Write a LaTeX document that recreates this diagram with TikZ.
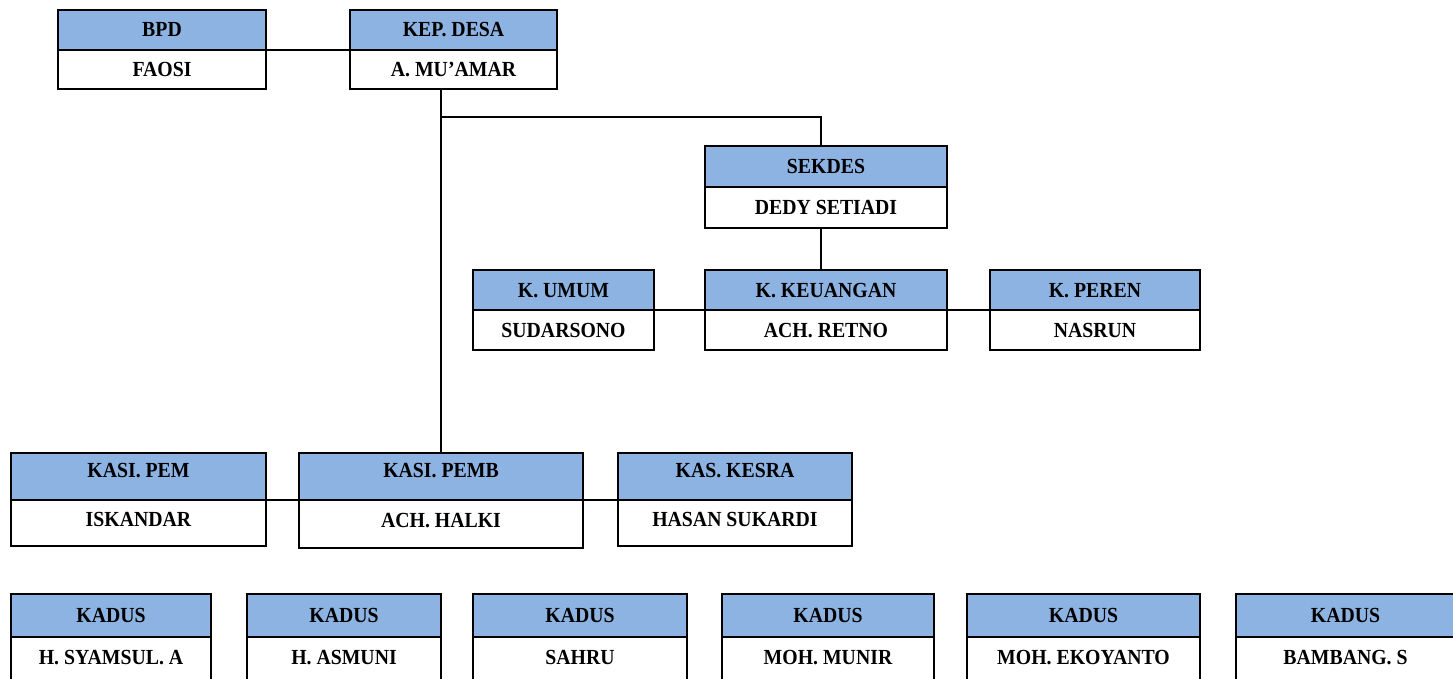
\documentclass[tikz,border=0pt]{standalone}
\usepackage{fontspec}
\setmainfont{Liberation Serif}[FakeStretch=0.92]
\definecolor{hdrblue}{RGB}{141,179,226}
\tikzset{
  boxline/.style={draw=black, line width=1.6pt, inner sep=0pt, outer sep=0pt, text height=14pt, text depth=0pt, font=\fontsize{21.5}{24}\selectfont\bfseries},
  hdr/.style={boxline, fill=hdrblue, anchor=north west},
  bodyb/.style={boxline, fill=white, anchor=north west},
  conn/.style={draw=black, line width=1.6pt},
  lift/.style={text depth=12pt},
  liftb/.style={text depth=7pt},
  open/.style={minimum height=0pt, text height=20pt, text depth=40pt, inner ysep=7pt}
}
% #1 id, #2 x, #3 y, #4 width, #5 header h, #6 body h, #7 title, #8 name, #9 extra body style
\newcommand\obox[9]{%
  \node[hdr, minimum width=#4pt, minimum height=#5pt] (#1h) at (#2,#3) {#7};
  \node[bodyb, minimum width=#4pt, minimum height=#6pt, #9] (#1) at (#1h.south west) {#8};
}
\begin{document}
\begin{tikzpicture}[x=1pt,y=-1pt]
\useasboundingbox (0,0) rectangle (1453,679);
\clip (0,0) rectangle (1453,679);
% row 1
\obox{bpd}{58}{10}{208}{40}{39}{BPD}{FAOSI}{}
\obox{kep}{350}{10}{207}{40}{39}{KEP. DESA}{A. MU'AMAR}{}
% sekdes
\obox{sek}{705}{146}{242}{41}{41}{SEKDES}{DEDY SETIADI}{}
% row 2
\obox{kum}{473}{270}{181}{40}{40}{K. UMUM}{SUDARSONO}{}
\obox{kke}{705}{270}{242}{40}{40}{K. KEUANGAN}{ACH. RETNO}{}
\obox{kpe}{990}{270}{210}{40}{40}{K. PEREN}{NASRUN}{}
% row 3
\node[hdr, lift, minimum width=255pt, minimum height=47pt] (kpemh) at (11,453) {KASI. PEM};
\node[bodyb, liftb, minimum width=255pt, minimum height=46pt] (kpem) at (kpemh.south west) {ISKANDAR};
\node[hdr, lift, minimum width=284pt, minimum height=47pt] (kpmbh) at (299,453) {KASI. PEMB};
\node[bodyb, liftb, minimum width=284pt, minimum height=48pt] (kpmb) at (kpmbh.south west) {ACH. HALKI};
\node[hdr, lift, minimum width=234pt, minimum height=47pt] (kesh) at (618,453) {KAS. KESRA};
\node[bodyb, liftb, minimum width=234pt, minimum height=46pt] (kes) at (kesh.south west) {HASAN SUKARDI};
% row 4
\obox{kd1}{11}{594}{200}{43}{0}{KADUS}{H. SYAMSUL. A}{open}
\obox{kd2}{247}{594}{194}{43}{0}{KADUS}{H. ASMUNI}{open}
\obox{kd3}{473}{594}{214}{43}{0}{KADUS}{SAHRU}{open}
\obox{kd4}{722}{594}{212}{43}{0}{KADUS}{MOH. MUNIR}{open}
\obox{kd5}{967}{594}{233}{43}{0}{KADUS}{MOH. EKOYANTO}{open}
\obox{kd6}{1236}{594}{219}{43}{0}{KADUS}{BAMBANG. S}{open}
% connectors
\coordinate (j1) at (441,117);
\draw[conn] (bpdh.south east) -- (keph.south west);
\draw[conn] (kep.south -| kpmbh.north) -- (kpmbh.north);
\draw[conn] (kpmbh.north |- j1) -| ([xshift=-5pt]sekh.north);
\draw[conn] ([xshift=-5pt]sek.south) -- ([xshift=-5pt]kkeh.north);
\draw[conn] (kumh.south east) -- (kkeh.south west);
\draw[conn] (kkeh.south east) -- (kpeh.south west);
\draw[conn] (kpemh.south east) -- (kpmbh.south west);
\draw[conn] (kpmbh.south east) -- (kesh.south west);
\end{tikzpicture}
\end{document}
